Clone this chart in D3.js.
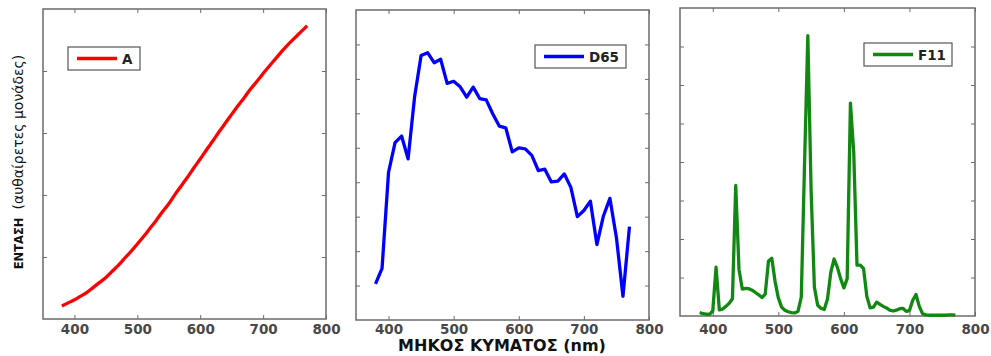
<!DOCTYPE html>
<html>
<head>
<meta charset="utf-8">
<script src="https://cdn.jsdelivr.net/npm/d3@7"></script>
<style>
  body { margin: 0; background: #fff; }
  svg { display: block; font-family: "DejaVu Sans", Verdana, sans-serif; }
</style>
</head>
<body>
<svg width="991" height="356"></svg>
<script>
// wavelength grids (nm)
const waveA = [380, 390, 400, 410, 420, 430, 440, 450, 460, 470, 480, 490, 500, 510, 520, 530,
    540, 550, 560, 570, 580, 590, 600, 610, 620, 630, 640, 650, 660, 670, 680, 690, 700, 710,
    720, 730, 740, 750, 760, 770]
const waveD65 = waveA
const waveF11 = [380, 385, 390, 395, 400, 405, 410, 415, 420, 425, 430, 435, 440, 445, 450, 455,
    460, 465, 470, 475, 480, 485, 490, 495, 500, 505, 510, 515, 520, 525, 530, 535, 540, 545,
    550, 555, 560, 565, 570, 575, 580, 585, 590, 595, 600, 605, 610, 615, 620, 625, 630, 635,
    640, 645, 650, 655, 660, 665, 670, 675, 680, 685, 690, 695, 700, 705, 710, 715, 720, 725,
    730, 735, 740, 745, 750, 755, 760, 765, 770]

// intensities, in the (unlabelled) tick units of each panel
const valuesA = [0.21, 0.26, 0.31, 0.37, 0.43, 0.51, 0.59, 0.67, 0.77, 0.87, 0.98, 1.09, 1.21,
    1.33, 1.46, 1.59, 1.73, 1.86, 2.01, 2.15, 2.29, 2.44, 2.58, 2.73, 2.87, 3.02, 3.16, 3.30,
    3.44, 3.57, 3.71, 3.83, 3.96, 4.08, 4.20, 4.32, 4.43, 4.53, 4.63, 4.73]
const valuesD65 = [1.05, 1.50, 4.29, 5.15, 5.34, 4.68, 6.48, 7.68, 7.76, 7.47, 7.57, 6.87, 6.93,
    6.77, 6.47, 6.76, 6.43, 6.39, 5.99, 5.63, 5.58, 4.88, 5.00, 4.97, 4.78, 4.34, 4.38, 4.01,
    4.03, 4.24, 3.85, 3.00, 3.18, 3.45, 2.19, 3.02, 3.53, 2.39, 0.69, 2.71]
const valuesF11 = [0.09, 0.06, 0.05, 0.04, 0.13, 1.27, 0.16, 0.18, 0.25, 0.33, 0.45, 3.39, 1.21,
    0.70, 0.72, 0.71, 0.67, 0.61, 0.55, 0.48, 0.57, 1.43, 1.50, 0.90, 0.47, 0.23, 0.15, 0.11,
    0.09, 0.08, 0.12, 0.49, 3.96, 7.28, 3.26, 0.75, 0.28, 0.20, 0.17, 0.44, 1.13, 1.48, 1.27,
    0.97, 0.73, 0.97, 5.53, 4.26, 1.32, 1.32, 1.23, 0.51, 0.21, 0.23, 0.36, 0.30, 0.25, 0.21,
    0.15, 0.13, 0.15, 0.19, 0.20, 0.12, 0.14, 0.41, 0.56, 0.25, 0.06, 0.03, 0.02, 0.02, 0.02,
    0.02, 0.02, 0.02, 0.03, 0.03, 0.02]

const xTicks = [400, 500, 600, 700, 800]
const legendNames = ['A', 'D65', 'F11']
const yLabelMain = 'ΕΝΤΑΣΗ'
const yLabelSub = '(αυθαίρετες μονάδες)'
const xLabel = 'ΜΗΚΟΣ ΚΥΜΑΤΟΣ (nm)'

const panels = [
    { name: legendNames[0], wave: waveA, values: valuesA, color: '#ff0000', yMax: 5, smooth: true,
      box: { left: 43, right: 326, top: 9, bottom: 319 }, legend: { x: 68, y: 47, w: 72, h: 23 } },
    { name: legendNames[1], wave: waveD65, values: valuesD65, color: '#0000ff', yMax: 9,
      box: { left: 356, right: 649, top: 10, bottom: 320 }, legend: { x: 535, y: 45, w: 91, h: 23 } },
    { name: legendNames[2], wave: waveF11, values: valuesF11, color: '#118811', yMax: 8,
      box: { left: 680, right: 975, top: 8, bottom: 316 }, legend: { x: 864, y: 43, w: 88, h: 23 } },
]

const svg = d3.select('svg')
const frameColor = '#6b6b6b'
const tickBaseline = 334

panels.forEach(p => {
    const b = p.box
    const x = d3.scaleLinear().domain([350, 800]).range([b.left, b.right])
    const y = d3.scaleLinear().domain([0, p.yMax]).range([b.bottom, b.top])
    const yTicks = d3.range(1, p.yMax)

    const g = svg.append('g')

    // x axis bottom (labels + inward ticks)
    const xb = g.append('g')
        .attr('transform', `translate(0, ${b.bottom})`)
        .call(d3.axisBottom(x).tickValues(xTicks).tickSizeInner(-4).tickSizeOuter(0))
    // x axis top (inward ticks only)
    const xt = g.append('g')
        .attr('transform', `translate(0, ${b.top})`)
        .call(d3.axisTop(x).tickValues(xTicks).tickSizeInner(-4).tickSizeOuter(0).tickFormat(''))
    // y axes left and right (ticks only, no labels)
    const yl = g.append('g')
        .attr('transform', `translate(${b.left}, 0)`)
        .call(d3.axisLeft(y).tickValues(yTicks).tickSizeInner(-4).tickSizeOuter(0).tickFormat(''))
    const yr = g.append('g')
        .attr('transform', `translate(${b.right}, 0)`)
        .call(d3.axisRight(y).tickValues(yTicks).tickSizeInner(-4).tickSizeOuter(0).tickFormat(''))

    ;[xb, xt, yl, yr].forEach(a => {
        a.select('.domain').remove()
        a.selectAll('.tick line').attr('stroke', frameColor).attr('stroke-width', 1)
    })
    xb.selectAll('.tick text')
        .attr('y', tickBaseline - b.bottom)
        .attr('dy', null)
        .attr('font-size', 13.5)
        .attr('font-weight', 'bold')
        .attr('fill', '#484848')
        .attr('font-family', '"DejaVu Sans", Verdana, sans-serif')

    // frame
    g.append('rect')
        .attr('x', b.left).attr('y', b.top)
        .attr('width', b.right - b.left).attr('height', b.bottom - b.top)
        .attr('fill', 'none').attr('stroke', frameColor).attr('stroke-width', 1.5)

    const line = d3.line()
        .x((d, i) => x(p.wave[i]))
        .y(d => y(d))
        .curve(p.smooth ? d3.curveMonotoneX : d3.curveLinear)

    g.append('path')
        .datum(p.values)
        .attr('d', line)
        .attr('fill', 'none')
        .attr('stroke', p.color)
        .attr('stroke-width', 3.3)
        .attr('stroke-linejoin', 'round')

    // legend
    const L = p.legend
    g.append('rect')
        .attr('x', L.x).attr('y', L.y).attr('width', L.w).attr('height', L.h)
        .attr('fill', '#fff').attr('stroke', '#555').attr('stroke-width', 1.2)
    g.append('line')
        .attr('x1', L.x + 9).attr('x2', L.x + 49)
        .attr('y1', L.y + L.h / 2).attr('y2', L.y + L.h / 2)
        .attr('stroke', p.color).attr('stroke-width', 3.3)
    g.append('text')
        .attr('x', L.x + 54).attr('y', L.y + L.h / 2 + 5)
        .attr('font-size', 13.5).attr('font-weight', 'bold').attr('fill', '#222')
        .text(p.name)
})

// axis titles
const yt = svg.append('text')
    .attr('transform', 'translate(23, 162) rotate(-90)')
    .attr('text-anchor', 'middle')
    .attr('fill', '#111')
yt.append('tspan').attr('font-size', 11.5).attr('font-weight', 'bold').text(yLabelMain)
yt.append('tspan').attr('font-size', 14).attr('dx', 8).text(yLabelSub)

svg.append('text')
    .attr('x', 502).attr('y', 351)
    .attr('text-anchor', 'middle')
    .attr('font-size', 16).attr('font-weight', 'bold').attr('fill', '#111')
    .text(xLabel)
</script>
</body>
</html>
